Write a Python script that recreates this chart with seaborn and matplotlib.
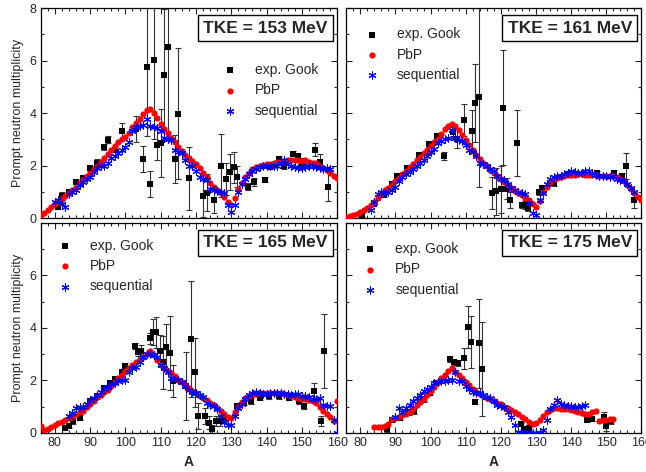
import numpy as np
import matplotlib
matplotlib.use('Agg')
import matplotlib.pyplot as plt
from matplotlib.ticker import MultipleLocator
import seaborn as sns

# Prompt neutron multiplicity vs fragment mass A, four TKE values
tke_labels = ['TKE = 153 MeV', 'TKE = 161 MeV', 'TKE = 165 MeV', 'TKE = 175 MeV']

# ---- TKE = 153 MeV ----
pbp_153_A = list(range(76, 161))
pbp_153_v = [0.11, 0.2, 0.3, 0.42, 0.52, 0.63, 0.74, 0.85, 0.95, 1.06,
             1.19, 1.32, 1.45, 1.6, 1.73, 1.87, 2.0, 2.14, 2.28, 2.45,
             2.6, 2.75, 2.88, 3.0, 3.1, 3.25, 3.45, 3.62, 3.78, 3.98,
             4.12, 4.15, 4.0, 3.8, 3.58, 3.4, 3.25, 3.06, 2.88, 2.7,
             2.55, 2.42, 2.3, 2.17, 2.05, 1.9, 1.72, 1.55, 1.35, 1.2,
             1.07, 0.95, 0.82, 0.6, 0.5, 0.75, 1.1, 1.35, 1.58, 1.72,
             1.85, 1.93, 1.98, 2.02, 2.05, 2.07, 2.1, 2.12, 2.14, 2.16,
             2.2, 2.22, 2.22, 2.2, 2.18, 2.2, 2.15, 2.1, 2.1, 2.0,
             1.92, 1.84, 1.72, 1.6, 1.52]
seq_153_A = list(range(80, 159))
seq_153_v = [0.6, 0.7, 0.55, 0.43, 0.9, 0.98, 1.05, 1.25, 1.38, 1.5,
             1.55, 1.75, 1.9, 1.97, 2.0, 2.1, 2.3, 2.38, 2.48, 2.6,
             2.7, 2.9, 3.3, 3.45, 3.5, 3.55, 3.78, 3.5, 3.46, 3.42,
             3.32, 3.05, 3.0, 2.99, 2.6, 2.5, 2.48, 2.2, 1.98, 1.97,
             1.8, 1.55, 1.5, 1.45, 1.1, 1.05, 1.02, 1.0, 0.95, 0.5,
             0.25, 0.5, 0.98, 1.3, 1.5, 1.68, 1.78, 1.88, 1.95, 1.98,
             2.0, 1.98, 1.97, 2.0, 2.1, 2.22, 2.05, 1.97, 1.95, 1.9,
             1.92, 1.95, 1.97, 2.0, 1.95, 1.9, 1.88, 1.9, 1.85]
exp_153_A = [81, 82, 84, 86, 88, 90, 92, 94, 95, 97, 99, 103, 105, 106, 107,
             108, 109, 110, 111, 112, 114, 115, 118, 122, 123, 125, 127, 128.5,
             129.5, 130.7, 131.6, 134.6, 136.5, 139.5, 141, 143.6, 145, 147.6,
             148.8, 150, 153.7, 155, 157.5]
exp_153_v = [0.43, 0.84, 1.01, 1.39, 1.52, 1.9, 2.1, 2.71, 2.99, 2.61, 3.33, 3.4,
             2.25, 5.74, 1.29, 6.03, 2.8, 2.87, 5.45, 6.5, 2.25, 3.98, 1.52, 0.84,
             0.97, 0.69, 1.99, 1.49, 1.75, 1.93, 1.58, 1.2, 1.39, 1.46, 1.95, 2.25,
             2.0, 2.45, 2.35, 2.1, 2.61, 2.15, 1.2]
exp_153_err = [0.1, 0.15, 0.1, 0.1, 0.1, 0.1, 0.15, 0.1, 0.15, 0.1, 0.3, 0.5,
               0.5, 2.6, 0.5, 3.0, 0.6, 1.3, 2.5, 3.5, 0.9, 2.5, 1.2, 0.8, 0.7,
               0.5, 1.2, 0.6, 0.7, 0.6, 0.4, 0.15, 0.15, 0.1, 0.1, 0.1, 0.15,
               0.1, 0.1, 0.2, 0.25, 0.3, 0.55]

# ---- TKE = 161 MeV ----
pbp_161_A = list(range(76, 161))
pbp_161_v = [0.05, 0.08, 0.11, 0.17, 0.24, 0.31, 0.4, 0.5, 0.6, 0.76,
             0.92, 1.05, 1.15, 1.27, 1.4, 1.53, 1.67, 1.8, 1.94, 2.07,
             2.2, 2.34, 2.47, 2.6, 2.74, 2.88, 3.02, 3.2, 3.38, 3.52,
             3.6, 3.52, 3.35, 3.15, 2.98, 2.8, 2.6, 2.42, 2.26, 2.1,
             1.97, 1.84, 1.71, 1.6, 1.48, 1.37, 1.26, 1.15, 1.04, 0.95,
             0.86, 0.77, 0.68, 0.55, 0.43, 0.65, 0.98, 1.2, 1.38, 1.47,
             1.54, 1.58, 1.61, 1.63, 1.65, 1.65, 1.66, 1.66, 1.65, 1.65,
             1.64, 1.63, 1.62, 1.62, 1.61, 1.6, 1.6, 1.55, 1.48, 1.4,
             1.25, 1.1, 0.95, 0.8, 0.68]
seq_161_A = list(range(83, 159))
seq_161_v = [0.3, 0.6, 0.9, 0.98, 0.97, 1.0, 1.05, 1.2, 1.4, 1.55,
             1.66, 1.75, 1.85, 2.0, 2.1, 2.2, 2.35, 2.5, 2.62, 2.85,
             2.95, 3.0, 3.05, 3.35, 3.05, 2.98, 2.94, 2.8, 2.6, 2.5,
             2.35, 2.1, 2.05, 2.0, 1.85, 1.78, 1.6, 1.5, 1.45, 1.3,
             1.15, 1.08, 1.0, 0.96, 0.9, 0.57, 0.19, 0.13, 0.7, 0.95,
             1.3, 1.47, 1.55, 1.6, 1.62, 1.66, 1.7, 1.79, 1.75, 1.7,
             1.72, 1.78, 1.79, 1.72, 1.65, 1.6, 1.6, 1.62, 1.58, 1.6,
             1.5, 1.45, 1.4, 1.3, 1.15, 1.0]
exp_161_A = [80.5, 83.8, 86.6, 89, 90.4, 93.3, 96.6, 99.5, 101.8, 103.7, 106.4,
             107.5, 109.6, 111.8, 112.6, 113.7, 117.5, 118.6, 119.9, 120.6, 121.8,
             122.7, 124.6, 125.9, 126.8, 127.8, 130.8, 131.7, 135.1, 138.9, 143.6,
             147.4, 152.2, 154.5, 155.7, 157.9]
exp_161_v = [0.13, 0.55, 0.89, 1.28, 1.6, 1.92, 2.39, 2.81, 3.13, 2.36, 3.26,
             3.03, 3.74, 3.32, 4.38, 4.6, 0.96, 1.02, 1.09, 4.21, 1.12, 0.7, 2.87,
             0.49, 0.49, 0.38, 0.98, 1.15, 1.34, 1.66, 1.72, 1.7, 1.72, 1.62,
             1.98, 0.7]
exp_161_err = [0.05, 0.05, 0.08, 0.08, 0.1, 0.1, 0.1, 0.1, 0.1, 0.15, 0.2,
               0.35, 0.6, 0.8, 1.5, 3.4, 0.6, 0.9, 0.9, 2.2, 0.4, 0.3, 1.25,
               0.1, 0.15, 0.1, 0.1, 0.1, 0.1, 0.1, 0.1, 0.1, 0.1, 0.1, 0.5, 0.3]

# ---- TKE = 165 MeV ----
pbp_165_A = list(range(76, 161))
pbp_165_v = [0.25, 0.1, 0.15, 0.22, 0.3, 0.36, 0.42, 0.5, 0.55, 0.62,
             0.7, 0.78, 0.85, 0.98, 1.1, 1.23, 1.36, 1.45, 1.55, 1.65,
             1.78, 1.92, 2.07, 2.22, 2.35, 2.47, 2.58, 2.68, 2.8, 2.9,
             3.0, 3.13, 2.95, 2.78, 2.6, 2.48, 2.37, 2.27, 2.15, 2.03,
             1.93, 1.82, 1.71, 1.6, 1.5, 1.42, 1.33, 1.24, 1.15, 1.05,
             0.95, 0.83, 0.72, 0.62, 0.55, 0.78, 0.98, 1.18, 1.33, 1.4,
             1.44, 1.47, 1.5, 1.52, 1.53, 1.53, 1.53, 1.52, 1.5, 1.48,
             1.45, 1.4, 1.35, 1.32, 1.3, 1.28, 1.24, 1.2, 1.15, 1.0,
             0.85, 0.7, 0.6, 0.45, 1.21]
seq_165_A = list(range(84, 161))
seq_165_v = [0.65, 0.75, 0.95, 0.98, 1.0, 1.1, 1.25, 1.34, 1.45, 1.55,
             1.68, 1.75, 1.85, 1.9, 1.98, 2.0, 2.02, 2.3, 2.45, 2.5,
             2.7, 2.9, 3.0, 3.02, 2.98, 2.9, 2.6, 2.45, 2.3, 2.1,
             2.05, 2.0, 1.95, 1.8, 1.65, 1.55, 1.5, 1.45, 1.35, 1.15,
             1.05, 1.02, 0.9, 0.65, 0.4, 0.3, 0.3, 0.65, 0.95, 1.1,
             1.3, 1.45, 1.5, 1.55, 1.52, 1.48, 1.47, 1.5, 1.53, 1.52,
             1.5, 1.48, 1.47, 1.45, 1.48, 1.47, 1.42, 1.4, 1.38, 1.3,
             1.28, 1.34, 1.05, 1.02, 1.02, 0.5, 0.0]
exp_165_A = [83, 84, 85.2, 87, 90, 92, 94, 95.6, 97, 99, 100, 102.6, 103.6,
             104.5, 106.9, 107.8, 108.8, 109.7, 110.7, 111.6, 112.7, 113.5, 117.2,
             118.6, 119.6, 120.7, 122.6, 123.6, 124.5, 125.7, 126.7, 128.5, 131.6,
             133.7, 135.6, 138, 140.8, 143.6, 146.4, 149.3, 150.7, 153.5, 155.4,
             156.3]
exp_165_v = [0.19, 0.25, 0.45, 0.57, 1.21, 1.4, 1.72, 1.91, 2.06, 2.3, 2.55,
             3.32, 3.06, 3.13, 3.6, 3.83, 3.83, 3.13, 2.68, 3.25, 3.04, 1.98,
             1.79, 3.57, 2.3, 0.64, 0.64, 0.38, 0.15, 0.45, 0.45, 0.51, 1.02,
             1.15, 1.21, 1.34, 1.4, 1.4, 1.34, 1.21, 1.02, 1.6, 0.45, 3.12]
exp_165_err = [0.08, 0.08, 0.1, 0.1, 0.1, 0.1, 0.1, 0.1, 0.1, 0.1, 0.1, 0.12,
               0.15, 0.2, 0.2, 0.5, 0.6, 0.6, 1.0, 0.9, 1.4, 0.6, 1.3, 2.2, 1.3,
               0.5, 0.3, 0.25, 0.15, 0.2, 0.2, 0.15, 0.1, 0.1, 0.1, 0.1, 0.1,
               0.1, 0.1, 0.1, 0.1, 0.3, 0.2, 1.4]

# ---- TKE = 175 MeV ----
pbp_175_A = list(range(84, 153))
pbp_175_v = [0.23, 0.23, 0.23, 0.27, 0.35, 0.52, 0.58, 0.62, 0.66, 0.72,
             0.8, 0.9, 1.05, 1.18, 1.3, 1.45, 1.6, 1.75, 1.93, 2.08,
             2.2, 2.35, 2.48, 2.33, 2.22, 2.1, 1.95, 1.82, 1.66, 1.55,
             1.48, 1.4, 1.34, 1.27, 1.21, 1.14, 1.08, 1.0, 0.95, 0.88,
             0.8, 0.72, 0.62, 0.52, 0.42, 0.34, 0.38, 0.5, 0.65, 0.78,
             0.88, 0.96, 0.95, 0.92, 0.9, 0.89, 0.88, 0.82, 0.78, 0.76,
             0.7, 0.72, 0.78, 0.82, 0.45, 0.48, 0.5, 0.53, 0.52]
seq_175_A = list(range(90, 145))
seq_175_v = [0.62, 0.96, 0.8, 0.95, 1.05, 1.2, 1.34, 1.45, 1.58, 1.66,
             1.75, 1.88, 1.93, 1.96, 1.98, 2.0, 2.02, 2.3, 1.98, 1.98,
             1.8, 1.66, 1.55, 1.5, 1.5, 1.45, 1.38, 1.34, 1.2, 1.05,
             1.02, 1.0, 0.8, 0.6, 0.3, 0.05, 0.0, 0.0, 0.0, 0.0,
             0.0, 0.0, 0.1, 0.5, 0.9, 1.05, 1.25, 1.1, 1.05, 1.02,
             1.02, 1.0, 0.98, 1.02, 1.05]
exp_175_A = [87.6, 89, 91.4, 93.8, 95.2, 98, 99.9, 101.4, 105.6, 106.6, 107.7,
             109.6, 110.5, 111.5, 112.6, 113.7, 114.7, 125.6, 126.7, 128, 144.6,
             146, 149.3, 149.8, 151.2]
exp_175_v = [0.13, 0.5, 0.57, 0.77, 0.83, 1.28, 1.53, 1.91, 2.81, 2.68, 2.66,
             2.84, 4.02, 3.45, 1.19, 3.41, 2.43, 0.32, 0.15, 0.19, 0.47, 0.51,
             0.6, 0.26, 0.45]
exp_175_err = [0.1, 0.1, 0.1, 0.1, 0.1, 0.1, 0.1, 0.1, 0.1, 0.1, 0.1, 0.4,
               0.8, 1.0, 0.1, 1.7, 1.8, 0.05, 0.05, 0.05, 0.05, 0.05, 0.2, 0.2,
               0.1]

sns.set_style('ticks')
plt.rcParams['font.family'] = ['Liberation Sans', 'DejaVu Sans']

fig = plt.figure(figsize=(6.46, 4.72), dpi=100)
ax_pos = [[0.063, 0.538, 0.459, 0.445], [0.536, 0.538, 0.457, 0.445],
          [0.063, 0.083, 0.459, 0.445], [0.536, 0.083, 0.457, 0.445]]
axes = [fig.add_axes(p) for p in ax_pos]

panels = [
    (pbp_153_A, pbp_153_v, seq_153_A, seq_153_v, exp_153_A, exp_153_v, exp_153_err),
    (pbp_161_A, pbp_161_v, seq_161_A, seq_161_v, exp_161_A, exp_161_v, exp_161_err),
    (pbp_165_A, pbp_165_v, seq_165_A, seq_165_v, exp_165_A, exp_165_v, exp_165_err),
    (pbp_175_A, pbp_175_v, seq_175_A, seq_175_v, exp_175_A, exp_175_v, exp_175_err),
]
legend_anchor = [(0.592, 0.738), (0.04, 0.908), (0.035, 0.924), (0.034, 0.908)]

for i, ax in enumerate(axes):
    pA, pv, sA, sv, eA, ev, ee = panels[i]
    ax.errorbar(eA, ev, yerr=ee, fmt='none', ecolor='0.2', elinewidth=0.8,
                capsize=2.5, capthick=0.8, zorder=2)
    sns.scatterplot(x=eA, y=ev, ax=ax, marker='s', color='black', s=16,
                    linewidth=0, label='exp. Gook', zorder=3)
    sns.scatterplot(x=pA, y=pv, ax=ax, marker='o', color='red', s=20,
                    linewidth=0, label='PbP', zorder=4)
    sns.scatterplot(x=sA, y=sv, ax=ax, marker=(6, 2, 0), color='blue',
                    edgecolor='blue', s=26, linewidth=0.8, label='sequential',
                    zorder=5)

    ax.set_xlim(76, 160)
    ax.set_ylim(0, 8)
    ax.xaxis.set_major_locator(MultipleLocator(10))
    ax.xaxis.set_minor_locator(MultipleLocator(2))
    ax.yaxis.set_major_locator(MultipleLocator(2))
    ax.yaxis.set_minor_locator(MultipleLocator(1))
    ax.tick_params(which='both', direction='in', top=True, right=True,
                   labelsize=9, pad=3, width=0.8)
    ax.tick_params(which='major', length=4)
    ax.tick_params(which='minor', length=2)
    for sp in ax.spines.values():
        sp.set_linewidth(0.9)
        sp.set_color('black')

    ax.set_xlabel('')
    ax.set_ylabel('')
    if i < 2:
        ax.tick_params(labelbottom=False)
    else:
        ax.set_xticks([80, 90, 100, 110, 120, 130, 140, 150, 160])
        ax.set_xlabel('A', fontsize=10, fontweight='bold', labelpad=4)
    if i % 2 == 1:
        ax.tick_params(labelleft=False)
    else:
        ax.set_ylabel('Prompt neutron multiplicity', fontsize=9, labelpad=4)
        if i == 2:
            ax.set_yticks([0, 2, 4, 6])
            ax.yaxis.set_minor_locator(MultipleLocator(1))

    ax.text(0.968, 0.94, tke_labels[i], transform=ax.transAxes, ha='right',
            va='top', fontsize=12.5, fontweight='bold', zorder=10,
            bbox=dict(boxstyle='square,pad=0.3', fc='white', ec='black', lw=1))

    ax.legend(loc='upper left', bbox_to_anchor=legend_anchor[i], frameon=False,
              fontsize=10, handletextpad=0.8, labelspacing=0.45,
              borderaxespad=0, borderpad=0, handlelength=2.0)

fig.savefig('out.png', dpi=100)
plt.close(fig)
